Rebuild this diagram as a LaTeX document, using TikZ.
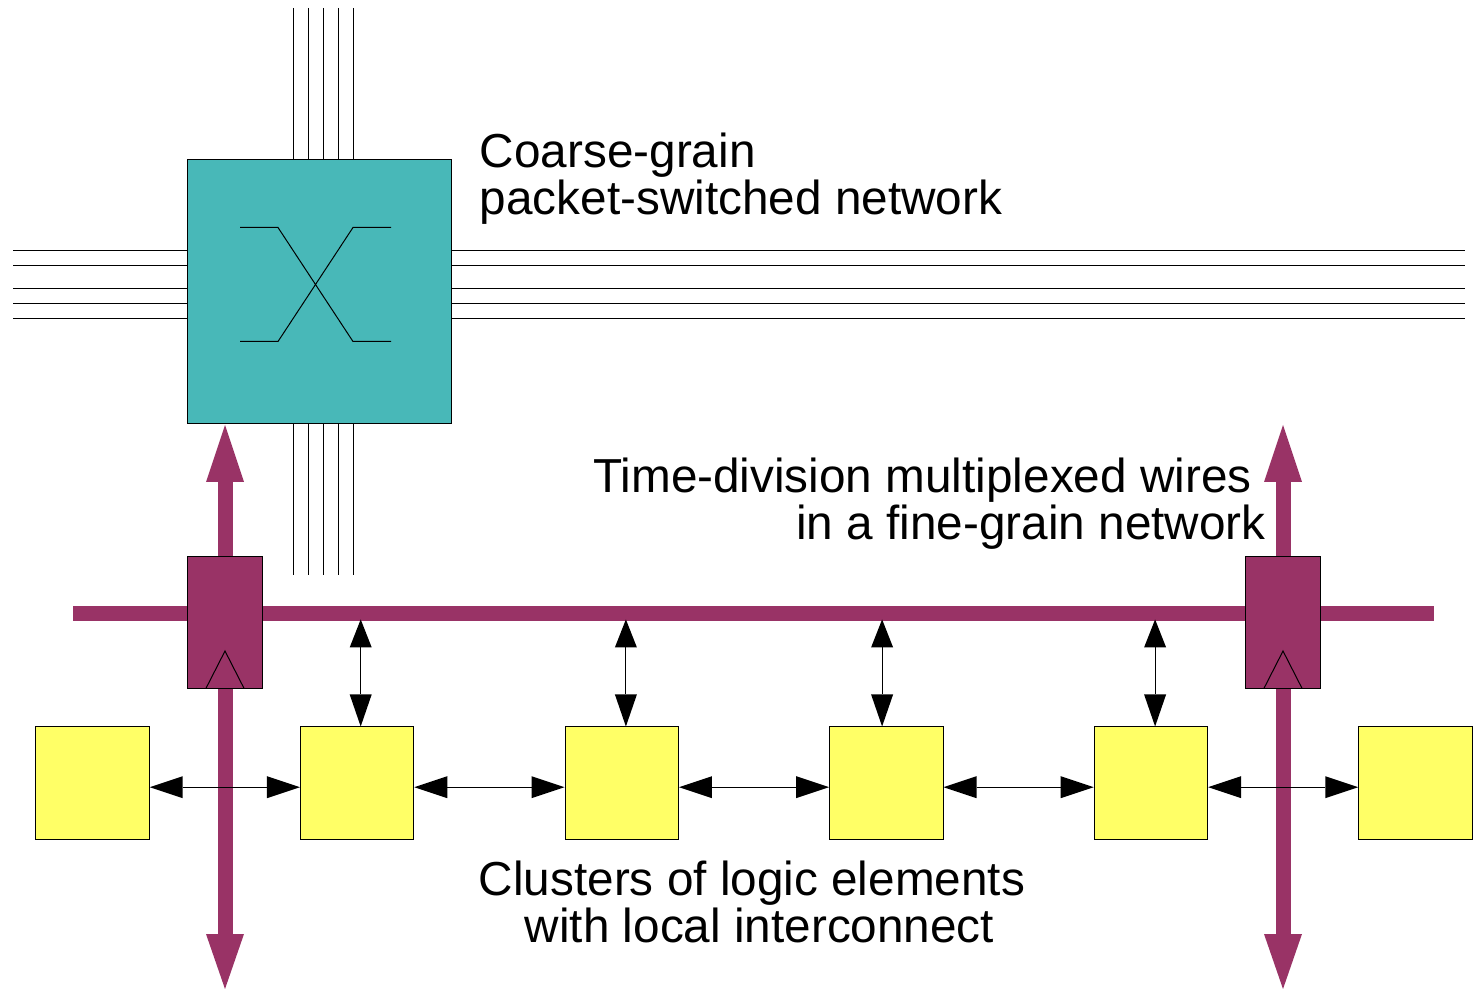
\documentclass[tikz,border=0pt]{standalone}
\usepackage{xcolor}
\usepackage{fontspec}
\setmainfont{Liberation Sans}
\usepackage{tikz}
\usetikzlibrary{arrows.meta,positioning}
\definecolor{tealfill}{HTML}{48B8B8}
\definecolor{wirered}{HTML}{993366}
\definecolor{clusteryellow}{HTML}{FFFF66}

\begin{document}
\begin{tikzpicture}[
    x=0.5pt, y=-0.5pt,
    node distance=75.1pt,
    switchbox/.style={rectangle, draw, line width=0.5pt, fill=tealfill, inner sep=0pt, minimum width=132pt, minimum height=132pt},
    tapbox/.style={rectangle, draw, line width=0.5pt, fill=wirered, inner sep=0pt, minimum width=37.7pt, minimum height=66pt},
    cluster/.style={rectangle, draw, line width=0.5pt, fill=clusteryellow, inner sep=0pt, minimum width=56.7pt, minimum height=56.2pt},
    busbar/.style={rectangle, fill=wirered, inner sep=0pt, minimum width=680.5pt, minimum height=7.5pt},
    wire/.style={line width=0.5pt},
    link/.style={{Triangle[line width=0pt,length=16.5pt,width=11pt]}-{Triangle[line width=0pt,length=16.5pt,width=11pt]}, line width=0.5pt},
    uplink/.style={{Triangle[line width=0pt,length=14pt,width=11pt]}-{Triangle[line width=0pt,length=16pt,width=11pt]}, line width=0.5pt},
    bigarrow/.style={{Triangle[line width=0pt,length=28.5pt,width=19pt]}-{Triangle[line width=0pt,length=27.5pt,width=19pt]}, line width=7.5pt, color=wirered},
    label/.style={font=\fontsize{23.85}{23.5}\selectfont}
]
\useasboundingbox (0,0) rectangle (1474,989);

% Switch
\node[switchbox] (switch) at (319,292) {};

% Packet-switched wires
\foreach \x in {293,308,323,338,353} {
    \coordinate (top) at (\x,8);
    \coordinate (bottom) at (\x,575);
    \draw[wire] (top) -- (top |- switch.north);
    \draw[wire] (bottom |- switch.south) -- (bottom);
}
\foreach \y in {250.5,265.5,288.5,303.5,318.5} {
    \coordinate (left) at (13,\y);
    \coordinate (right) at (1464.5,\y);
    \draw[wire] (left) -- (left -| switch.west);
    \draw[wire] (right -| switch.east) -- (right);
}

% Crossing inside the switch
\coordinate (xa) at (240,227.5);
\coordinate (xb) at (278,227.5);
\coordinate (xc) at (353,227.5);
\coordinate (xd) at (391,227.5);
\coordinate (xe) at (240,341.5);
\coordinate (xf) at (278,341.5);
\coordinate (xg) at (353,341.5);
\coordinate (xh) at (391,341.5);
\draw[wire] (xa) -- (xb) -- (xg) -- (xh);
\draw[wire] (xe) -- (xf) -- (xc) -- (xd);

% Vertical fine-grain wires
\coordinate (ltop) at (225,425);
\coordinate (lbot) at (225,989);
\coordinate (rtop) at (1283,425);
\coordinate (rbot) at (1283,989);
\draw[bigarrow] (ltop) -- (lbot);
\draw[bigarrow] (rtop) -- (rbot);

% Bus
\node[busbar] (bus) at (753.5,613.5) {};

% Taps
\node[tapbox] (tapl) at (225,622.3) {};
\node[tapbox] (tapr) at (1283,622.3) {};
\coordinate (tla) at (206,688.3);
\coordinate (tlb) at (225,651);
\coordinate (tlc) at (244,688.3);
\coordinate (tra) at (1264,688.3);
\coordinate (trb) at (1283,651);
\coordinate (trc) at (1302,688.3);
\draw[wire] (tla) -- (tlb) -- (tlc);
\draw[wire] (tra) -- (trb) -- (trc);

% Clusters
\node[cluster] (c1) at (92.5,783.2) {};
\node[cluster, right=of c1] (c2) {};
\node[cluster, right=of c2] (c3) {};
\node[cluster, right=of c3] (c4) {};
\node[cluster, right=of c4] (c5) {};
\node[cluster, right=of c5] (c6) {};

% Local interconnect
\foreach \a/\b in {c1/c2,c2/c3,c3/c4,c4/c5,c5/c6} {
    \draw[link] ([yshift=-2pt]\a.east) -- ([yshift=-2pt]\b.west);
}
\foreach \c/\s in {c2/1.8pt,c3/2.1pt,c4/-2.1pt,c5/2.1pt} {
    \draw[uplink] ([xshift=\s,yshift=1pt]bus.south -| \c.north) -- ([xshift=\s]\c.north);
}

% Labels
\node[label, anchor=north west, align=left, inner sep=0pt] (coarse) at (479.5,133) {Coarse-grain\\packet-switched network};
\node[label, anchor=north east, align=right, inner sep=0pt] (fine) at (1266,458) {Time-division multiplexed wires\hspace*{7pt}\\in a fine-grain network};
\node[label, anchor=north west, align=left, inner sep=0pt] (logic) at (478.5,861) {Clusters of logic elements\\\hspace*{23pt}with local interconnect};

\end{tikzpicture}
\end{document}
